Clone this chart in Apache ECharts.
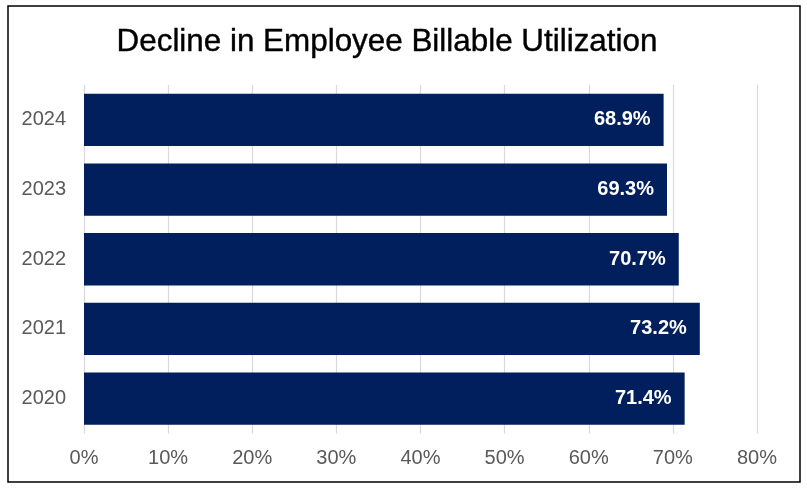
<!DOCTYPE html>
<html>
<head>
<meta charset="utf-8">
<script src="https://cdn.jsdelivr.net/npm/echarts@6/dist/echarts.min.js"></script>
<style>
html,body{margin:0;padding:0;background:#fff;}
#chart{width:807px;height:489px;}
</style>
</head>
<body>
<div id="chart"></div>
<script>
var titleText = 'Decline in Employee Billable Utilization';
var years = ['2020', '2021', '2022', '2023', '2024'];
var utilization = [71.4, 73.2, 70.7, 69.3, 68.9];
var xTicks = [0, 10, 20, 30, 40, 50, 60, 70, 80];

var chart = echarts.init(document.getElementById('chart'));
chart.setOption({
  backgroundColor: '#ffffff',
  animation: false,
  title: {
    text: titleText,
    left: 382,
    textAlign: 'center',
    top: 22,
    textStyle: {
      fontFamily: 'Liberation Sans, Arial, sans-serif',
      fontSize: 31.4,
      fontWeight: 'normal',
      color: '#000000',
      textBorderColor: '#000000',
      textBorderWidth: 0.4
    }
  },
  graphic: [{
    type: 'rect',
    shape: { x: 8, y: 6, width: 792, height: 476 },
    style: { fill: 'none', stroke: '#000000', lineWidth: 1.5 },
    silent: true,
    z: 100
  }],
  grid: { left: 84, right: 50, top: 85, bottom: 55.5, containLabel: false },
  xAxis: {
    type: 'value',
    min: xTicks[0],
    max: xTicks[xTicks.length - 1],
    interval: 10,
    axisLine: { show: false },
    axisTick: { show: false },
    splitLine: { show: true, lineStyle: { color: '#d9d9d9', width: 1.2 } },
    axisLabel: {
      formatter: '{value}%',
      color: '#595959',
      fontFamily: 'Liberation Sans, Arial, sans-serif',
      fontSize: 20,
      margin: 15
    }
  },
  yAxis: {
    type: 'category',
    data: years,
    axisLine: { show: false },
    axisTick: { show: false },
    axisLabel: {
      color: '#595959',
      fontFamily: 'Liberation Sans, Arial, sans-serif',
      fontSize: 20,
      margin: 18
    }
  },
  series: [{
    type: 'bar',
    data: utilization,
    barCategoryGap: '25%',
    itemStyle: { color: '#001f5c' },
    label: {
      show: true,
      position: 'insideRight',
      distance: 13,
      formatter: function (p) { return p.value.toFixed(1) + '%'; },
      color: '#ffffff',
      fontWeight: 'bold',
      fontFamily: 'Liberation Sans, Arial, sans-serif',
      fontSize: 20
    }
  }]
});
</script>
</body>
</html>
